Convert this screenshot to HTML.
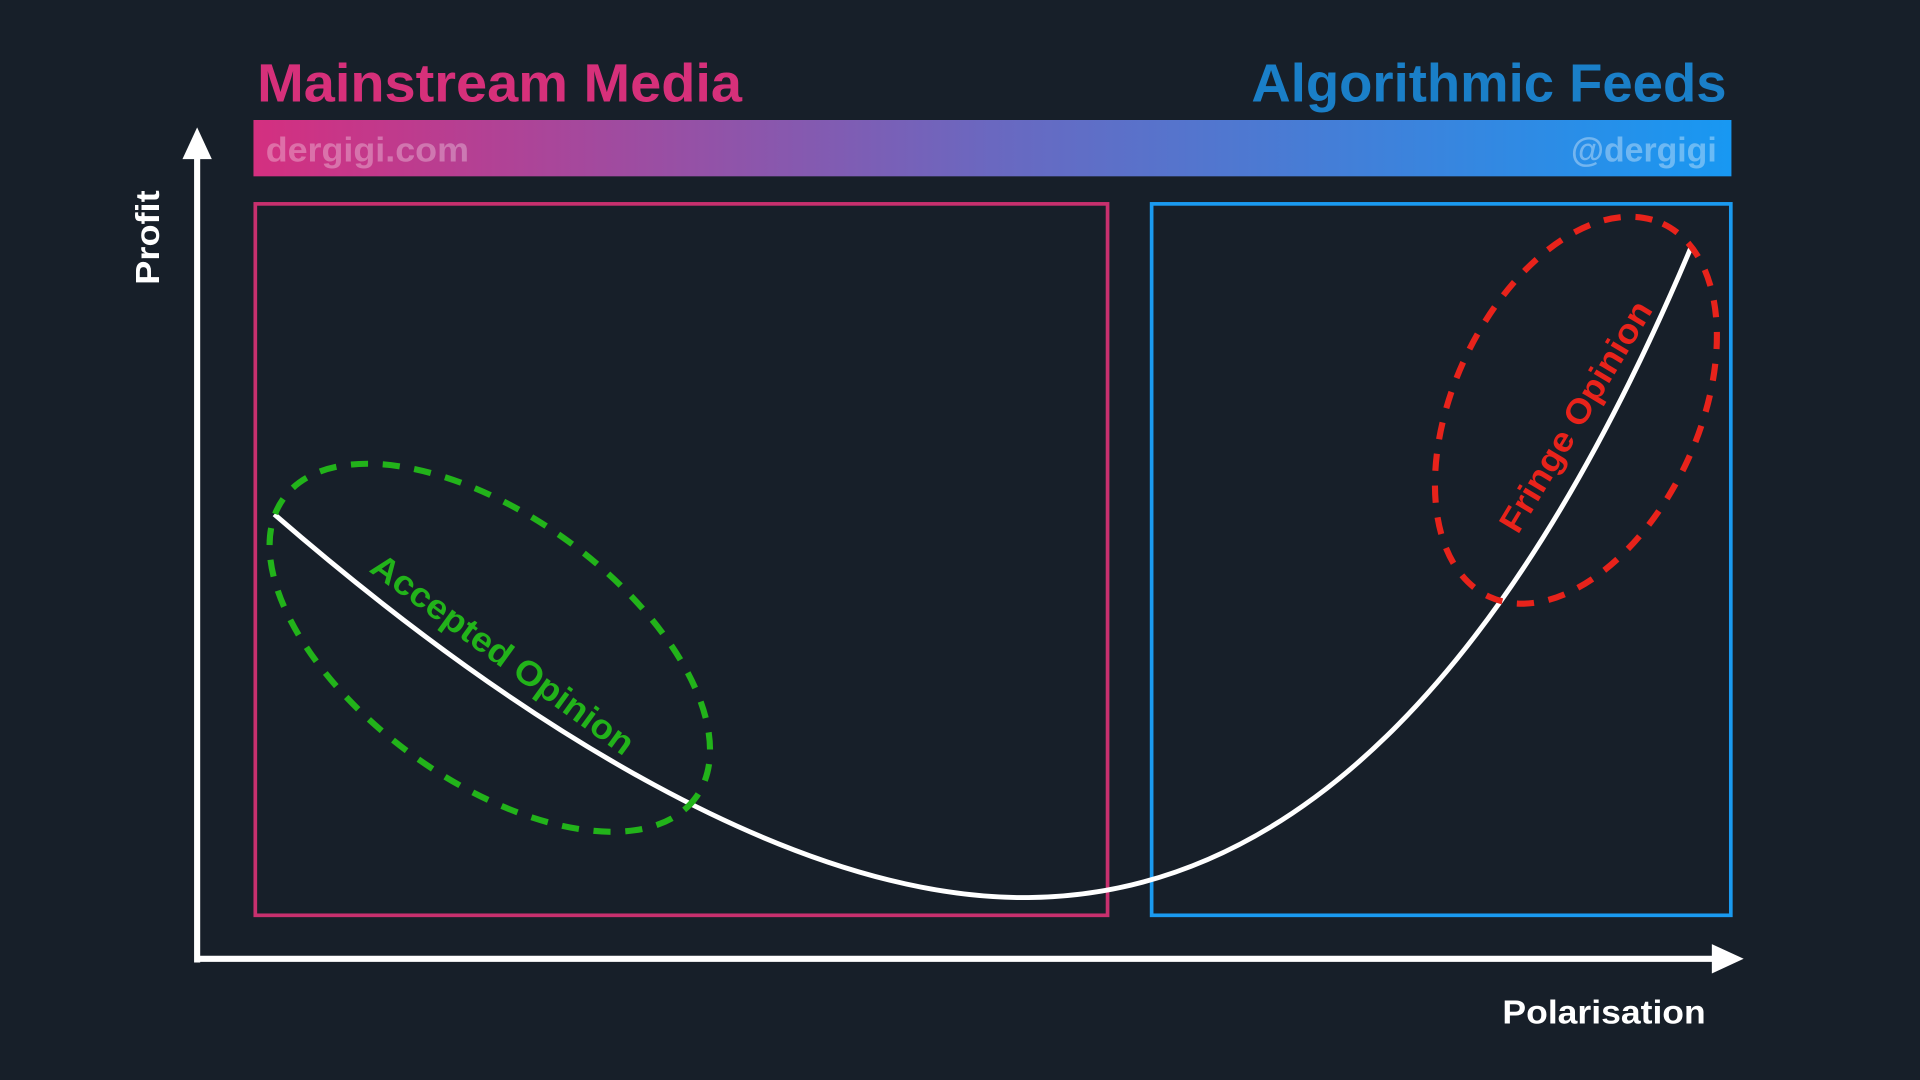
<!DOCTYPE html>
<html><head><meta charset="utf-8"><style>
html,body{margin:0;padding:0;background:#171f29;}
svg{display:block}
text{font-family:"Liberation Sans",Arial,sans-serif;font-weight:bold}
</style></head><body>
<svg width="1920" height="1080" viewBox="0 0 1568 882" xmlns="http://www.w3.org/2000/svg">
<defs>
<linearGradient id="g" x1="0" x2="1" y1="0" y2="0">
<stop offset="0" stop-color="#d42f80"/>
<stop offset="0.5" stop-color="#6a68c0"/>
<stop offset="1" stop-color="#1898f2"/>
</linearGradient>
</defs>
<rect width="1568" height="882" fill="#171f29"/>
<text x="210" y="83" font-size="44" fill="#d6307a" textLength="396" lengthAdjust="spacingAndGlyphs">Mainstream Media</text>
<text x="1022" y="83" font-size="44" fill="#1a7fc8" textLength="388" lengthAdjust="spacingAndGlyphs">Algorithmic Feeds</text>
<rect x="207" y="98" width="1207" height="46" fill="url(#g)"/>
<text x="217" y="132" font-size="28" fill="#ffffff" fill-opacity="0.3" textLength="166" lengthAdjust="spacingAndGlyphs">dergigi.com</text>
<text x="1283" y="132" font-size="28" fill="#ffffff" fill-opacity="0.35" textLength="119" lengthAdjust="spacingAndGlyphs">@dergigi</text>
<rect x="208.5" y="166.5" width="696" height="581" fill="none" stroke="#c8306e" stroke-width="3"/>
<rect x="940.5" y="166.5" width="473" height="581" fill="none" stroke="#1a9af0" stroke-width="3"/>
<line x1="161" y1="786" x2="161" y2="125" stroke="#fff" stroke-width="5"/>
<polygon points="161,104 149,130 173,130" fill="#fff"/>
<line x1="159" y1="783" x2="1402" y2="783" stroke="#fff" stroke-width="5"/>
<polygon points="1424,783 1398,771 1398,795" fill="#fff"/>
<text transform="translate(130,194) rotate(-90)" font-size="27" fill="#fff" text-anchor="middle" textLength="77" lengthAdjust="spacingAndGlyphs">Profit</text>
<text x="1227" y="836" font-size="27" fill="#fff" textLength="166" lengthAdjust="spacingAndGlyphs">Polarisation</text>
<path d="M224,420 C420,590 650,735 840,733 C1050,731 1230,560 1381,202" fill="none" stroke="#fff" stroke-width="4"/>
<ellipse cx="400" cy="529" rx="208" ry="108" transform="rotate(36 400 529)" fill="none" stroke="#22b31a" stroke-width="5" stroke-dasharray="14 12"/>
<text transform="translate(405,542) rotate(36)" font-size="28" fill="#22b31a" text-anchor="middle" textLength="258" lengthAdjust="spacingAndGlyphs">Accepted Opinion</text>
<ellipse cx="1287" cy="335" rx="168" ry="100" transform="rotate(-65 1287 335)" fill="none" stroke="#e8231b" stroke-width="5" stroke-dasharray="14 12"/>
<text transform="translate(1295,345) rotate(-59)" font-size="28" fill="#e8231b" text-anchor="middle" textLength="215" lengthAdjust="spacingAndGlyphs">Fringe Opinion</text>
</svg>
</body></html>
